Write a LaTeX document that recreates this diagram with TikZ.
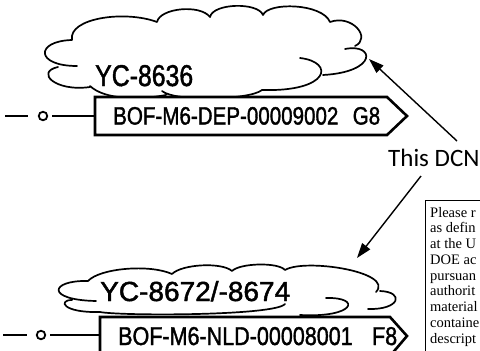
\documentclass[tikz,border=0pt]{standalone}
\usepackage{graphicx}
\usepackage{fontspec}
\setmainfont{Liberation Serif}
\newfontfamily\cadfont[FakeBold=1.6]{Liberation Sans}
\newfontfamily\calfont{Carlito}
\usetikzlibrary{arrows.meta}
\begin{document}
\begin{tikzpicture}[x=1pt,y=-1pt,
  cloudline/.style={line width=1.7pt, line cap=round, line join=round},
  boxline/.style={line width=2.6pt, line join=miter, fill=white},
  wire/.style={line width=2.4pt},
  dot/.style={circle, draw, line width=1.8pt, minimum size=8.5pt, inner sep=0pt},
  pointer/.style={line width=1.4pt, -{Triangle[length=15pt,width=10pt]}},
  cadtext/.style={inner sep=0pt, anchor=base west, font=\cadfont},
  notetext/.style={inner sep=0pt, anchor=base west, font=\fontsize{14.5}{17}\selectfont},
  ]
\useasboundingbox (0,0) rectangle (480,351);
\clip (0,0) rectangle (480,351);
\fill[white] (0,0) rectangle (480,351);

% ---------- top revision cloud ----------
\draw[cloudline]
  (77,66) .. controls (35,66) and (35,41) .. (72,40)
  .. controls (68,18) and (125,10) .. (157,22)
  .. controls (160,8) and (200,4) .. (210,17)
  .. controls (213,3) and (258,2) .. (263,15)
  .. controls (268,2) and (322,3) .. (330,22)
  .. controls (352,14) and (372,38) .. (355,46)
  (345,49) .. controls (375,43) and (378,72) .. (323,75)
  (300,58) .. controls (335,62) and (330,92) .. (262,90)
  .. controls (250,100) and (175,102) .. (162,91)
  (166,95) .. controls (140,100) and (105,100) .. (90,86)
  (90,87) .. controls (55,92) and (35,72) .. (58,67);

% ---------- bottom revision cloud ----------
\draw[cloudline]
  (96,301) .. controls (45,300) and (50,280) .. (88,281)
  .. controls (100,268) and (150,264) .. (172,274)
  .. controls (182,264) and (222,262) .. (232,271)
  .. controls (240,263) and (278,262) .. (285,270)
  .. controls (305,258) and (395,272) .. (376,292)
  (380,291) .. controls (405,292) and (400,310) .. (368,309)
  (326,298) .. controls (362,297) and (355,318) .. (300,315)
  (285,304) .. controls (275,316) and (120,316) .. (100,312)
  .. controls (62,313) and (58,300) .. (72,300);

% ---------- top tag ----------
\draw[boxline] (95,97) -- (387,97) -- (407,116) -- (387,135) -- (95,135) -- cycle;
\coordinate (tagA) at (95,116);
\coordinate (endA) at (5,116);
\coordinate (endAr) at (28,116);
\node[dot] (dotA) at (43,116) {};
\draw[wire] (endA) -- (endAr);
\draw[wire] (dotA.east) ++(4,0) -- (tagA);
\node[cadtext] (ycA) at (95,86) {\resizebox{98pt}{21pt}{YC-8636}};
\node[cadtext] (tagAtext) at (113,124.5) {\resizebox{267pt}{17.5pt}{BOF-M6-DEP-00009002\hspace{0.7em}G8}};

% ---------- bottom tag ----------
\draw[boxline] (100,356) -- (100,317) -- (390,317) -- (407,336) -- (390,356) -- cycle;
\coordinate (tagB) at (100,335);
\coordinate (endB) at (3,335);
\coordinate (endBr) at (27,335);
\node[dot] (dotB) at (41,335) {};
\draw[wire] (endB) -- (endBr);
\draw[wire] (dotB.east) ++(4,0) -- (tagB);
\node[cadtext] (ycB) at (100,301) {\resizebox{190pt}{20pt}{YC-8672/-8674}};
\node[cadtext] (tagBtext) at (118,345) {\resizebox{279pt}{18pt}{BOF-M6-NLD-00008001\hspace{0.9em}F8}};

% ---------- callout ----------
\node[inner sep=0pt, anchor=base west, font=\calfont\fontsize{25}{30}\selectfont] (dcn) at (388,166) {This DCN};
\coordinate (tailA) at (457,141);
\coordinate (tipA) at (369,59);
\coordinate (tailB) at (421,176);
\coordinate (tipB) at (357,258);
\draw[pointer] (tailA) -- (tipA);
\draw[pointer] (tailB) -- (tipB);

% ---------- note box ----------
\draw[line width=0.9pt] (425,200) rectangle (495,365);
\foreach \t [count=\i] in {Please r, as defin, at the U, DOE ac, pursuan, authorit, material, containe, descript}
  \node[notetext] (note\i) at (430,{217+15.75*(\i-1)}) {\t};
\end{tikzpicture}
\end{document}
